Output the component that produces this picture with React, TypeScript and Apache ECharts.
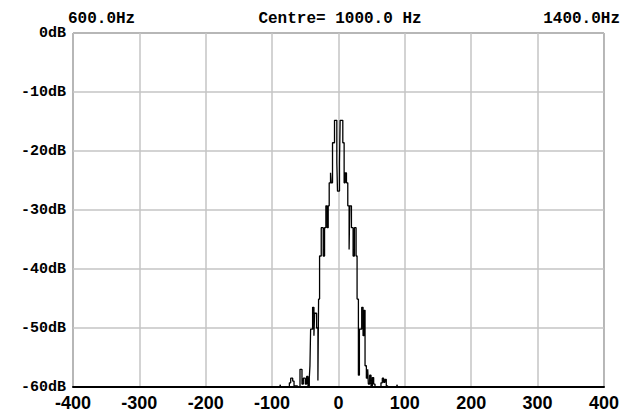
import React, { useEffect, useRef } from "react";
import * as echarts from "echarts";

// Frequency offset from centre (Hz) at which each step level begins
const freqs = [
  -400, -88, -87, -74, -72, -69, -67, -62, -58, -55, -53, -50, -48, -46, -44, -43,
  -42, -39, -37, -36, -33, -31, -30, -28.5, -26, -23, -21, -19, -17, -15.5, -14, -12, -11,
  -9, -6, -2.5, -1.5, 1.5, 2.5, 6.5, 8.5, 10, 12, 14, 16, 17, 19.5, 22, 24, 26.5, 28,
  30, 31.5, 35, 37, 38.5, 40, 42, 44, 45, 47, 49, 51, 53, 55, 64, 66, 68, 70, 72, 74, 88, 89, 400,
];
// Level (dB) of each step
const levels = [
  -60, -59.6, -60, -59.3, -58.5, -59, -59.8, -60, -57, -59.5, -58.5, -59.5, -58.2, -59.8, -58.5, -56.4,
  -50.2, -46.5, -51.3, -47.5, -50, -58.9, -45.1, -37.8, -33, -37.8, -33, -29.3, -33, -29.3, -25.4, -23.7, -25.4,
  -18.6, -14.8, -22, -26.8, -22, -14.8, -18.6, -25.4, -23.7, -25.4, -29.3, -36.7, -29.3, -33, -37.8, -33, -37.8, -45.1,
  -58, -50.2, -46.5, -51.3, -47, -56.4, -58.5, -57, -59.5, -58, -59.8, -58.4, -59.5, -60, -59.3, -58.5, -59.2, -58.7, -59.8, -60, -59.6, -60, -60,
];
const xTicks = { min: -400, max: 400, interval: 100 };
const yTicks = { min: -60, max: 0, interval: 10 };
const topLabels = ["600.0Hz", "Centre= 1000.0 Hz", "1400.0Hz"];

export default function App() {
  const ref = useRef<HTMLDivElement>(null);
  useEffect(() => {
    document.body.style.margin = "0";
    const chart = echarts.init(ref.current!, undefined, { renderer: "svg" });
    const monoFont = "Liberation Mono";
    chart.setOption({
      animation: false,
      backgroundColor: "#ffffff",
      grid: {
        left: 73,
        right: 16,
        top: 33,
        bottom: 24,
        show: true,
        borderColor: "#222",
        borderWidth: 1,
        containLabel: false,
      },
      graphic: [
        {
          type: "text",
          left: 68,
          top: 11,
          style: { text: topLabels[0], font: `bold 16px "${monoFont}"`, fill: "#000" },
        },
        {
          type: "text",
          x: 340,
          y: 11,
          style: { text: topLabels[1], font: `bold 16px "${monoFont}"`, fill: "#000", textAlign: "center" },
        },
        {
          type: "text",
          x: 620,
          y: 11,
          style: { text: topLabels[2], font: `bold 16px "${monoFont}"`, fill: "#000", textAlign: "right" },
        },
      ],
      xAxis: {
        type: "value",
        min: xTicks.min,
        max: xTicks.max,
        interval: xTicks.interval,
        axisLine: { show: true, onZero: false, lineStyle: { color: "#000", width: 2 } },
        axisTick: { show: false },
        axisLabel: {
          color: "#000",
          fontFamily: "Liberation Sans",
          fontWeight: "bold",
          fontSize: 18,
          margin: 7,
        },
        splitLine: { show: true, lineStyle: { color: "#c4c4c4", width: 1.5 } },
      },
      yAxis: {
        type: "value",
        min: yTicks.min,
        max: yTicks.max,
        interval: yTicks.interval,
        axisLine: { show: false },
        axisTick: { show: false },
        axisLabel: {
          color: "#000",
          fontFamily: monoFont,
          fontWeight: "bold",
          fontSize: 15,
          margin: 7,
          formatter: (v: number) => `${v}dB`,
        },
        splitLine: { show: true, lineStyle: { color: "#c4c4c4", width: 1.5 } },
      },
      series: [
        {
          type: "line",
          step: "end",
          showSymbol: false,
          symbol: "none",
          lineStyle: { color: "#000", width: 1.3 },
          data: freqs.map((f, i) => [f, levels[i]]),
          z: 5,
        },
      ],
    });
    return () => chart.dispose();
  }, []);
  return <div ref={ref} style={{ width: 622, height: 412 }} />;
}
